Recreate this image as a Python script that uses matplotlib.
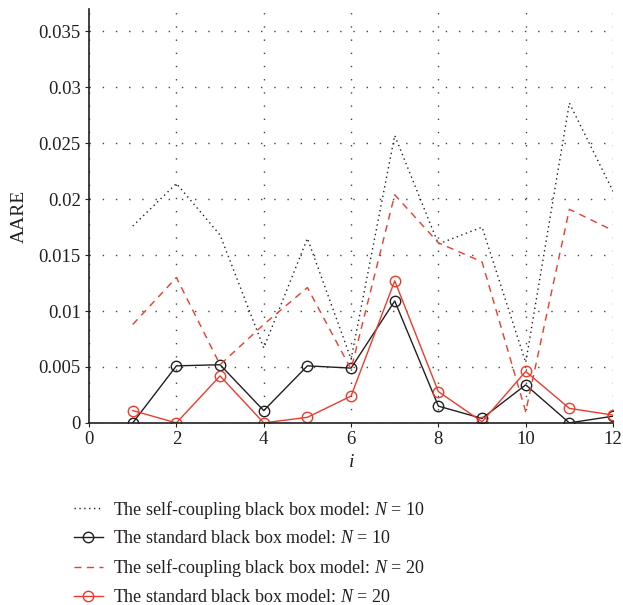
import matplotlib
matplotlib.use("Agg")
import matplotlib.pyplot as plt
from matplotlib.ticker import FixedLocator, FuncFormatter

plt.rcParams["font.family"] = ["Liberation Serif", "DejaVu Serif"]
plt.rcParams["mathtext.fontset"] = "custom"
plt.rcParams["mathtext.it"] = "Liberation Serif:italic"
plt.rcParams["mathtext.rm"] = "Liberation Serif"

i_vals = [1, 2, 3, 4, 5, 6, 7, 8, 9, 10, 11, 12]
self_n10 = [0.0176, 0.0214, 0.0168, 0.0067, 0.0165, 0.0057, 0.0257, 0.0160, 0.0175, 0.0054, 0.0286, 0.0207]
std_n10 = [0.0000, 0.0051, 0.0052, 0.0011, 0.0051, 0.0049, 0.0109, 0.0015, 0.0004, 0.0034, 0.0000, 0.0006]
self_n20 = [0.0088, 0.0130, 0.0052, 0.0088, 0.0121, 0.0048, 0.0204, 0.0161, 0.0144, 0.0010, 0.0191, 0.0172]
std_n20 = [0.0011, 0.0000, 0.0042, 0.0000, 0.0005, 0.0024, 0.0127, 0.0028, 0.0001, 0.0046, 0.0013, 0.0007]

labels = [
    "The self-coupling black box model: $N$ = 10",
    "The standard black box model: $N$ = 10",
    "The self-coupling black box model: $N$ = 20",
    "The standard black box model: $N$ = 20",
]

x_ticks = [0, 2, 4, 6, 8, 10, 12]
y_ticks = [0, 0.005, 0.01, 0.015, 0.02, 0.025, 0.03, 0.035]

dark = "#231f20"
red = "#ee3b2b"

fig = plt.figure(figsize=(6.23, 6.05), dpi=100)
ax = fig.add_axes([0.143, 0.301, 0.841, 0.684])

l1, = ax.plot(i_vals, self_n10, color=dark, linestyle=(0, (1, 2.5)), linewidth=1.0)
l2, = ax.plot(i_vals, std_n10, color=dark, linestyle="-", linewidth=1.0,
              marker="o", markersize=7.5, markerfacecolor="none",
              markeredgecolor=dark, markeredgewidth=1.0)
l3, = ax.plot(i_vals, self_n20, color=red, linestyle=(0, (5, 4)), linewidth=1.0)
l4, = ax.plot(i_vals, std_n20, color=red, linestyle="-", linewidth=1.0,
              marker="o", markersize=7.5, markerfacecolor="none",
              markeredgecolor=red, markeredgewidth=1.0)

ax.set_xlim(0, 12)
ax.set_ylim(0, 0.037)
ax.xaxis.set_major_locator(FixedLocator(x_ticks))
ax.yaxis.set_major_locator(FixedLocator(y_ticks))
ax.yaxis.set_major_formatter(FuncFormatter(lambda v, p: "0" if v == 0 else ("%g" % v)))
ax.grid(True, color="#444444", linestyle=(0, (1, 8.5)), linewidth=1.0)
ax.set_axisbelow(True)

for side in ("top", "right"):
    ax.spines[side].set_visible(False)
for side in ("left", "bottom"):
    ax.spines[side].set_color(dark)
    ax.spines[side].set_linewidth(1.2)
ax.tick_params(axis="both", direction="out", length=3, width=0.8, color=dark,
               labelsize=13.5, labelcolor=dark, pad=3)

ax.set_xlabel("$i$", fontsize=14, color=dark, labelpad=4)
ax.set_ylabel("AARE", fontsize=14, color=dark, labelpad=8)

fig.legend([l1, l2, l3, l4], labels, loc="upper left",
           bbox_to_anchor=(0.118, 0.176), frameon=False, fontsize=13,
           handlelength=1.65, handletextpad=0.55, labelspacing=0.55,
           numpoints=1, borderaxespad=0, borderpad=0, labelcolor=dark)

fig.savefig("out.png", dpi=100)
